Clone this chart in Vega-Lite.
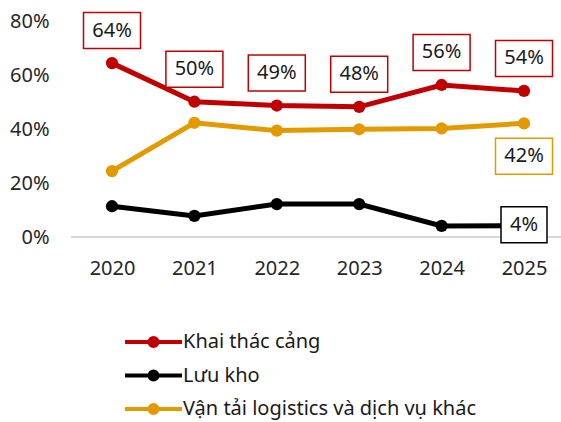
{
  "$schema": "https://vega.github.io/schema/vega-lite/v6.json",
  "width": 490,
  "height": 216,
  "autosize": "none",
  "padding": {"left": 71, "top": 21, "right": 0, "bottom": 185},
  "background": "white",
  "config": {"view": {"stroke": null}, "font": "Noto Sans"},
  "data": {
    "values": [
      {"year": "2020", "series": "Khai thác cảng", "value": 0.644},
      {"year": "2021", "series": "Khai thác cảng", "value": 0.501},
      {"year": "2022", "series": "Khai thác cảng", "value": 0.487},
      {"year": "2023", "series": "Khai thác cảng", "value": 0.482},
      {"year": "2024", "series": "Khai thác cảng", "value": 0.563},
      {"year": "2025", "series": "Khai thác cảng", "value": 0.541},
      {"year": "2020", "series": "Lưu kho", "value": 0.114},
      {"year": "2021", "series": "Lưu kho", "value": 0.078},
      {"year": "2022", "series": "Lưu kho", "value": 0.122},
      {"year": "2023", "series": "Lưu kho", "value": 0.122},
      {"year": "2024", "series": "Lưu kho", "value": 0.041},
      {"year": "2025", "series": "Lưu kho", "value": 0.042},
      {"year": "2020", "series": "Vận tải logistics và dịch vụ khác", "value": 0.244},
      {"year": "2021", "series": "Vận tải logistics và dịch vụ khác", "value": 0.423},
      {"year": "2022", "series": "Vận tải logistics và dịch vụ khác", "value": 0.394},
      {"year": "2023", "series": "Vận tải logistics và dịch vụ khác", "value": 0.399},
      {"year": "2024", "series": "Vận tải logistics và dịch vụ khác", "value": 0.402},
      {"year": "2025", "series": "Vận tải logistics và dịch vụ khác", "value": 0.421}
    ]
  },
  "encoding": {
    "x": {
      "field": "year",
      "type": "ordinal",
      "scale": {"type": "point", "range": [41, 453], "padding": 0},
      "axis": {
        "title": null, "domain": false, "ticks": false, "tickSize": 0,
        "labelAngle": 0, "labelPadding": 21, "labelFont": "Noto Sans",
        "labelFontSize": 20, "labelColor": "#262626"
      }
    },
    "y": {
      "field": "value",
      "type": "quantitative",
      "scale": {"domain": [0, 0.8]},
      "axis": {
        "title": null, "format": ".0%", "values": [0, 0.2, 0.4, 0.6, 0.8],
        "grid": false, "domain": false, "ticks": false, "tickSize": 0,
        "labelPadding": 22, "labelFont": "Noto Sans", "labelFontSize": 20,
        "labelColor": "#262626"
      }
    }
  },
  "layer": [
    {
      "mark": {"type": "rule", "color": "#d9d9d9", "strokeWidth": 1.5},
      "encoding": {"x": null, "y": {"datum": 0, "type": "quantitative"}}
    },
    {
      "mark": {"type": "line", "strokeWidth": 5},
      "encoding": {
        "color": {
          "field": "series",
          "type": "nominal",
          "scale": {
            "domain": ["Khai thác cảng", "Lưu kho", "Vận tải logistics và dịch vụ khác"],
            "range": ["#C00000", "#000000", "#E29A00"]
          },
          "legend": {
            "title": null,
            "orient": "none",
            "legendX": 70.5,
            "legendY": 309,
            "direction": "vertical",
            "padding": 0,
            "symbolType": "M-2.85,0L2.85,0M0.4,0A0.4,0.4,0,1,1,-0.4,0A0.4,0.4,0,1,1,0.4,0Z",
            "symbolSize": 400,
            "symbolStrokeWidth": 4,
            "labelOffset": 17.5,
            "rowPadding": 9.5,
            "labelFont": "Noto Sans",
            "labelFontSize": 20,
            "labelColor": "#1a1a1a",
            "labelLimit": 400,
            "encode": {
              "symbols": {
                "update": {
                  "fill": {"scale": "color", "field": "value"},
                  "stroke": {"scale": "color", "field": "value"},
                  "opacity": {"value": 1}
                }
              }
            }
          }
        }
      }
    },
    {
      "mark": {"type": "point", "filled": true, "size": 150, "opacity": 1},
      "encoding": {"color": {"field": "series", "type": "nominal", "legend": null}}
    },
    {
      "transform": [{"filter": "datum.series == 'Khai thác cảng'"}],
      "mark": {
        "type": "point",
        "shape": "M-2.85,-5.05L2.85,-5.05L2.85,-1.45L-2.85,-1.45Z",
        "size": 400, "filled": false, "fill": "white", "fillOpacity": 1,
        "stroke": "#C00000", "strokeWidth": 1.5, "opacity": 1
      }
    },
    {
      "transform": [{"filter": "datum.series == 'Khai thác cảng'"}],
      "mark": {"type": "text", "dy": -32.5, "baseline": "middle", "font": "Noto Sans", "fontSize": 20, "color": "#1a1a1a"},
      "encoding": {"text": {"field": "value", "type": "quantitative", "format": ".0%"}}
    },
    {
      "transform": [{"filter": "datum.series == 'Vận tải logistics và dịch vụ khác' && datum.year == '2025'"}],
      "mark": {
        "type": "point",
        "shape": "M-2.85,1.5L2.85,1.5L2.85,5.1L-2.85,5.1Z",
        "size": 400, "filled": false, "fill": "white", "fillOpacity": 1,
        "stroke": "#E29A00", "strokeWidth": 1.5, "opacity": 1
      }
    },
    {
      "transform": [{"filter": "datum.series == 'Vận tải logistics và dịch vụ khác' && datum.year == '2025'"}],
      "mark": {"type": "text", "dy": 33, "baseline": "middle", "font": "Noto Sans", "fontSize": 20, "color": "#1a1a1a"},
      "encoding": {"text": {"field": "value", "type": "quantitative", "format": ".0%"}}
    },
    {
      "transform": [{"filter": "datum.series == 'Lưu kho' && datum.year == '2025'"}],
      "mark": {
        "type": "point",
        "shape": "M-2.3,-1.9L2.3,-1.9L2.3,1.7L-2.3,1.7Z",
        "size": 400, "filled": false, "fill": "white", "fillOpacity": 1,
        "stroke": "#000000", "strokeWidth": 1.5, "opacity": 1
      }
    },
    {
      "transform": [{"filter": "datum.series == 'Lưu kho' && datum.year == '2025'"}],
      "mark": {"type": "text", "dy": -1, "baseline": "middle", "font": "Noto Sans", "fontSize": 20, "color": "#1a1a1a"},
      "encoding": {"text": {"field": "value", "type": "quantitative", "format": ".0%"}}
    }
  ]
}
